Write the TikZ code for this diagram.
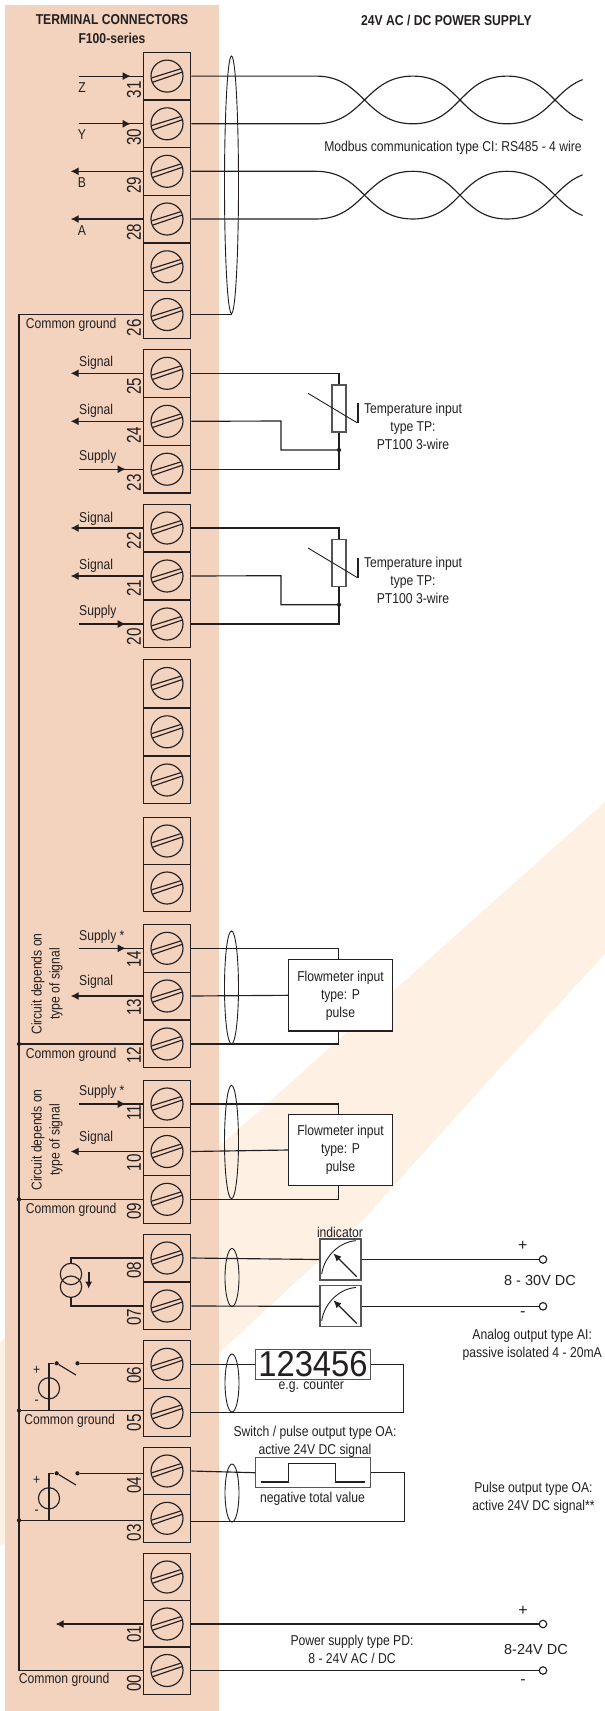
\documentclass[tikz,border=0pt]{standalone}
\usepackage{fontspec}
\setmainfont[FakeStretch=0.85]{Liberation Sans}
\newfontfamily\digitfont[FakeStretch=0.76]{Liberation Sans}
\newfontfamily\countfont[FakeStretch=0.91]{Liberation Sans}
\newfontfamily\widefont{Liberation Sans}
\usetikzlibrary{arrows.meta}
\definecolor{peach}{HTML}{F4D3BE}
\definecolor{band}{HTML}{FEF1E3}
\definecolor{ink}{HTML}{231F20}
\definecolor{rim}{HTML}{555555}
\tikzset{
  every node/.style={inner sep=0pt,text=ink,font=\fontsize{14.3}{18}\selectfont,align=center},
  wire/.style={draw=ink,line width=1.15pt},
  tip/.style={-{Latex[length=8pt,width=8pt]}},
  terminal/.style={draw=ink,line width=1.15pt,minimum width=47.5pt,minimum height=47.6pt},
  pinnum/.style={rotate=90,font=\digitfont\fontsize{20}{20}\selectfont},
  dot/.style={circle,fill=ink,minimum size=4.2pt},
  openpin/.style={circle,draw=ink,fill=white,line width=1.15pt,minimum size=7.5pt},
  flowbox/.style={draw=ink,fill=white,line width=1.15pt,minimum width=103.8pt,minimum height=71.3pt},
  meterbox/.style={draw=rim,fill=white,line width=1.2pt,minimum width=41pt,minimum height=41pt},
  dispbox/.style={draw=rim,fill=white,line width=1.2pt,minimum width=114.5pt,minimum height=30pt},
  resbox/.style={draw=rim,fill=white,line width=1.1pt,minimum width=14pt,minimum height=47pt},
  bigtext/.style={font=\widefont\fontsize{14.5}{18}\selectfont},
  signtext/.style={font=\widefont\fontsize{16}{16}\selectfont}
}
\newcommand{\screwhead}[1]{
  \draw[wire] (#1.center) circle (16);
  \draw[wire] ([shift={(-15,1.7)}]#1.center) -- ([shift={(13.7,-7.3)}]#1.center);
  \draw[wire] ([shift={(-14,6)}]#1.center) -- ([shift={(15.3,-4)}]#1.center);
}
\begin{document}
\begin{tikzpicture}[x=1pt,y=-1pt]
 \useasboundingbox (0,0) rectangle (605,1711);
 % background
 \fill[band] (605,802) -- (0,1342) -- (0,1547) -- (219,1353) -- (363,1220) -- (501,1067) -- (605,954) -- cycle;
 \fill[peach] (5,5) rectangle (219,1711);

 % numbered terminals
 \foreach \n/\yc/\yn in {31/76.1/89.7,30/123.8/137,29/171.3/185,28/219/232.3,26/314.5/327.7,
   25/373.3/386,24/421.3/435,23/469.2/482.7,22/528/540.7,21/576/588,20/624/636.7,
   14/948.3/959,13/996/1007,12/1044/1055,11/1104/1113,10/1151.5/1162.7,09/1199.3/1211,
   08/1258/1270,07/1306/1317,06/1364.3/1375,05/1412.5/1422.7,04/1471/1485,03/1518.3/1532.7,
   01/1624/1634,00/1670.5/1683} {
  \node[terminal] (t\n) at (167,\yc) {};
  \screwhead{t\n}
  \node[pinnum] (num\n) at (134,\yn) {\n};
 }
 % terminals without number
 \foreach \n/\yc in {a/266.8,b/683.5,c/731.8,d/780,e/841,f/888,g/1577} {
  \node[terminal] (t\n) at (167,\yc) {};
  \screwhead{t\n}
 }

 % left side arrows
 \foreach \n/\len in {31/52,30/52,23/47,20/47,14/47,11/47} {
  \coordinate (in\n) at ([xshift=-64pt]t\n.west);
  \draw[wire] (in\n) -- (t\n.west);
  \draw[wire,tip] (in\n) -- ++(\len,0);
 }
 \foreach \n/\len in {29/72,28/72,25/72,24/72,22/72,21/72,13/72,10/72,01/87} {
  \draw[wire,tip] (t\n.west) -- ++(-\len,0);
 }

 % titles
 \node (title) at (112,20) {\bfseries TERMINAL CONNECTORS};
 \node (series) at (112,38.3) {\bfseries F100-series};
 \node (power) at (446.4,20) {\bfseries 24V AC / DC POWER SUPPLY};

 \node (lblZ) at (82,87.7) {Z};
 \node (lblY) at (82,135) {Y};
 \node (lblB) at (82,183) {B};
 \node (lblA) at (82,231) {A};
 \foreach \n/\txt/\yy in {s25/Signal/363,s24/Signal/411,s23/Supply/457,s22/Signal/518.3,s21/Signal/566,
   s20/Supply/612,s14/Supply */937,s13/Signal/982,s11/Supply */1092,s10/Signal/1138} {
  \node[anchor=west] (\n) at (79,\yy) {\txt};
 }
 \foreach \n/\xx/\yy in {g26/71.2/324.5,g12/71.2/1054.5,g09/71.2/1209.5,g05/69.6/1420.5,g00/64.2/1679.5} {
  \node (\n) at (\xx,\yy) {Common ground};
 }
 \foreach \n/\yy in {dep1/984,dep2/1140} {
  \node[rotate=90] (\n) at (47,\yy) {Circuit depends on\\type of signal};
 }

 % common ground
 \coordinate (busT) at (19,314.5);
 \coordinate (busB) at (19,1670.5);
 \draw[wire] (t26.west) -- (busT) -- (busB) -- (t00.west);
 \foreach \n/\s in {12/0,09/0,05/2,03/-2} {
  \coordinate (gnd\n) at ([yshift=\s pt]t\n.west);
  \draw[wire] (gnd\n) -- (gnd\n -| busT) node[dot] (j\n) {};
 }

 % modbus pairs
 \begin{scope}
  \clip (0,0) rectangle (582.6,1711);
  \foreach \a/\b/\ya/\yb in {31/30/76.1/123.8,29/28/171.3/219} {
   \draw[wire] (t\a.east) -- (316,\ya) .. controls (364,\ya) and (365,\yb) .. (413,\yb)
     .. controls (460,\yb) and (460,\ya) .. (507,\ya) .. controls (555,\ya) and (555,\yb) .. (603,\yb);
   \draw[wire] (t\b.east) -- (316,\yb) .. controls (364,\yb) and (365,\ya) .. (413,\ya)
     .. controls (460,\ya) and (460,\yb) .. (507,\yb) .. controls (555,\yb) and (555,\ya) .. (603,\ya);
  }
 \end{scope}
 \node (modbus) at (453,148) {Modbus communication type CI: RS485 - 4 wire};
 \draw[wire] (t26.east) -- (231.5,314.5);

 % shields
 \foreach \n/\yy/\ry/\xx in {sh1/184.7/128.7/231.5,sh2/987.5/56.5/231.5,sh3/1142/56.7/231.5,
   sh4/1277.5/29/232,sh5/1383/29/232,sh6/1493/29/232} {
  \draw[draw=ink,line width=.9pt] (\xx,\yy) ellipse [x radius=7,y radius=\ry];
 }

 % temperature inputs
 \foreach \a/\b/\c/\k/\yy in {25/24/23/1/408.5,22/21/20/2/563.2} {
  \node[resbox] (res\k) at (339,\yy) {};
  \coordinate (mid\k) at (339,\yy+41.5);
  \draw[wire] (t\a.east) -| (res\k.north);
  \draw[wire] (t\c.east) -| (res\k.south);
  \draw[wire] (t\b.east) -- (281,\yy+12.5) -- (281,\yy+41.5) -- (mid\k);
  \node[dot] (jm\k) at (mid\k) {};
  \draw[draw=ink,line width=.9pt] (308,\yy-15.2) -- (357,\yy+14.2);
  \draw[draw=ink,line width=2.4pt] (358,\yy-5.5) -- (358,\yy+14.5);
  \node (temp\k) at (413,\yy+17.5) {Temperature input\\type TP:\\PT100 3-wire};
 }

 % flowmeter inputs
 \foreach \a/\b/\c/\k/\yy in {14/13/12/1/995.3,11/10/09/2/1150} {
  \node[flowbox] (flow\k) at (340.5,\yy) {Flowmeter input\\type: P\\pulse};
  \draw[wire] (t\a.east) -| (flow\k.north -| 338.7,0);
  \draw[wire] (t\b.east) -- (flow\k.west);
  \draw[wire] (t\c.east) -| (flow\k.south -| 338.7,0);
 }

 % analog output
 \node (lblInd) at (340,1232.3) {indicator};
 \node[meterbox] (ind1) at (340.4,1259.5) {};
 \node[meterbox] (ind2) at (340.4,1306.3) {};
 \foreach \k in {1,2} {
  \draw[draw=ink,line width=.9pt] ([shift={(-18.7,14.5)}]ind\k.center) .. controls ([shift={(-16,-4)}]ind\k.center) and ([shift={(0,-18)}]ind\k.center) .. ([shift={(15.6,-18.8)}]ind\k.center);
  \draw[wire,line width=1.3pt,-{Latex[length=8pt,width=7pt]}] ([shift={(16.3,17.2)}]ind\k.center) -- ([shift={(-7.1,-6.2)}]ind\k.center);
 }
 \node[openpin] (pin1) at (543,1259.5) {};
 \node[openpin] (pin2) at (543,1306.3) {};
 \draw[wire] (t08.east) -- (ind1.west);
 \draw[wire] (t07.east) -- (ind2.west);
 \draw[wire] (ind1.east) -- (pin1.west);
 \draw[wire] (ind2.east) -- (pin2.west);
 \node[signtext] (plus1) at (522.8,1245.7) {+};
 \node[signtext] (minus1) at (522.8,1314) {-};
 \node[bigtext] (volt1) at (540,1280.7) {8 - 30V DC};
 \node (analog) at (532.2,1345) {Analog output type AI:\\passive isolated 4 - 20mA};

 % current source
 \coordinate (srcT) at (71,1258);
 \coordinate (srcB) at (71,1306);
 \draw[wire] (t08.west) -- (srcT) -- (71,1263.3);
 \draw[wire] (t07.west) -- (srcB) -- (71,1297.3);
 \draw[wire] (71,1274) circle (10.7);
 \draw[wire] (71,1286.7) circle (10.7);
 \draw[line width=1.6pt,draw=ink,-{Latex[length=7pt,width=7pt]}] (88.7,1272.3) -- (88.7,1288.7);

 % switches
 \foreach \a/\b/\dy in {06/05/0,04/03/110} {
  \begin{scope}[yshift=-\dy pt]
   \node[dot] (swa\a) at (56.7,1363.3) {};
   \node[dot] (swb\a) at (77.5,1363.3) {};
   \coordinate (swl\a) at (49,1363.3);
   \draw[wire] (swb\a) -- (swb\a -| t\a.west);
   \draw[wire] (swa\a) -- (76,1375);
   \draw[wire] (swa\a) -- (swl\a) -- (49,1410);
   \draw[wire] (49,1388.3) circle (10.6);
   \node (plus\a) at (36.6,1370.7) {+};
   \node (minus\a) at (36.6,1402.7) {-};
  \end{scope}
 }

 % counter
 \node[dispbox] (counter) at (313,1364.3) {\countfont\fontsize{36}{36}\selectfont 123456};
 \coordinate (cntR) at (403.7,1364.3);
 \draw[wire] (t06.east) -- (counter.west);
 \draw[wire] (counter.east) -- (cntR) -- (cntR |- t05.east) -- (t05.east);
 \node (lblCnt) at (311.3,1386.8) {e.g. counter};

 % pulse output
 \node (lblPulse) at (315,1442.2) {Switch / pulse output type OA:\\active 24V DC signal};
 \node[dispbox] (pulse) at (313,1472.7) {};
 \draw[wire] (260.7,1482) -- (288.3,1482) -- (288.3,1463.3) -- (335.7,1463.3) -- (335.7,1482) -- (365,1482);
 \coordinate (pulR) at (404.3,1472.7);
 \coordinate (ret03) at ([yshift=-3pt]t03.east);
 \draw[wire] (t04.east) -- (pulse.west);
 \draw[wire] (pulse.east) -- (pulR) -- (pulR |- ret03) -- (ret03);
 \node (lblNeg) at (312.5,1498.3) {negative total value};
 \node (lblOA) at (533.5,1497.5) {Pulse output type OA:\\active 24V DC signal**};

 % power supply
 \node[openpin] (pin3) at (543,1624) {};
 \node[openpin] (pin4) at (543,1670.5) {};
 \draw[wire,line width=1.4pt] (t01.east) -- (pin3.west);
 \draw[wire] (t00.east) -- (pin4.west);
 \node[signtext] (plus2) at (523,1610.7) {+};
 \node[signtext] (minus2) at (523,1682.3) {-};
 \node[bigtext] (volt2) at (536,1649) {8-24V DC};
 \node (lblPD) at (352,1649.2) {Power supply type PD:\\8 - 24V AC / DC};
\end{tikzpicture}
\end{document}
